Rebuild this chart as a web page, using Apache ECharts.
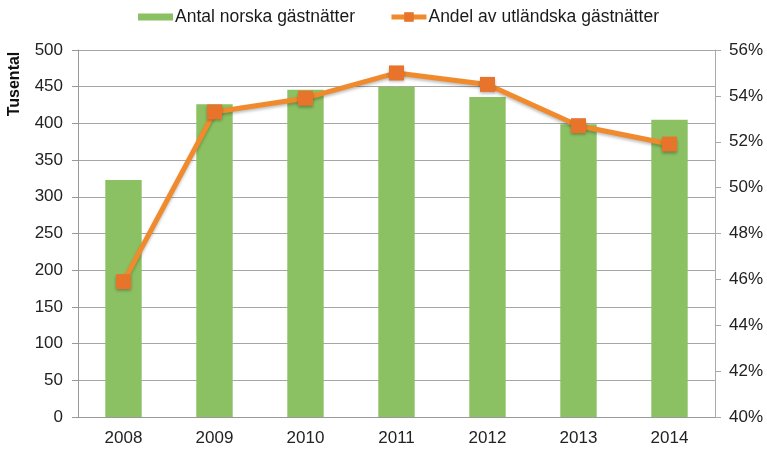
<!DOCTYPE html>
<html>
<head>
<meta charset="utf-8">
<script src="https://cdn.jsdelivr.net/npm/echarts@6/dist/echarts.min.js"></script>
<style>
  html, body { margin: 0; padding: 0; background: #fff; }
  #chart { width: 767px; height: 451px; }
</style>
</head>
<body>
<div id="chart"></div>
<script>
// Years on the category axis
const years = ['2008', '2009', '2010', '2011', '2012', '2013', '2014'];
// Norwegian guest nights, thousands (left axis)
const norskaGastnatter = [323, 426, 446, 450, 436, 399, 405];
// Share of foreign guest nights, percent (right axis)
const utlandskaAndel = [45.9, 53.3, 53.9, 55.0, 54.5, 52.7, 51.9];

const seriesNames = ['Antal norska gästnätter', 'Andel av utländska gästnätter'];

const barColor = '#8bc163';
const lineColor = '#f08a2c';
const markerColor = '#e8742c';

const labelFont = { fontFamily: 'Liberation Sans, Arial, sans-serif', fontSize: 17, color: '#222' };

const chart = echarts.init(document.getElementById('chart'), null, { renderer: 'canvas' });

chart.setOption({
  animation: false,
  backgroundColor: '#fff',
  grid: { left: 78, right: 52, top: 50, bottom: 34, containLabel: false },
  legend: {
    top: 3,
    left: 133,
    itemGap: 34,
    itemWidth: 35,
    itemHeight: 12,
    textStyle: { fontFamily: 'Liberation Sans, Arial, sans-serif', fontSize: 17.5, color: '#1a1a1a', padding: [0, 0, 0, -3] },
    data: [
      { name: seriesNames[0], icon: 'path://M0,0H35V7H0Z', itemStyle: { color: barColor } },
      {
        name: seriesNames[1],
        itemStyle: { color: markerColor },
        lineStyle: { color: lineColor, width: 5 }
      }
    ]
  },
  graphic: [
    {
      type: 'text',
      x: 15, y: 84,
      rotation: Math.PI / 2,
      style: {
        text: 'Tusental',
        font: 'bold 16px Liberation Sans, Arial, sans-serif',
        fill: '#111',
        textAlign: 'center',
        textVerticalAlign: 'middle'
      }
    }
  ],
  xAxis: {
    type: 'category',
    data: years,
    axisLine: { show: true, lineStyle: { color: '#999', width: 1 } },
    axisTick: { show: false },
    axisLabel: Object.assign({ margin: 13 }, labelFont)
  },
  yAxis: [
    {
      type: 'value',
      min: 0,
      max: 500,
      interval: 50,
      axisLine: { show: true, lineStyle: { color: '#999' } },
      axisTick: { show: true, length: 6, lineStyle: { color: '#999' } },
      splitLine: { show: true, lineStyle: { color: '#a6a6a6', width: 1 } },
      axisLabel: Object.assign({ margin: 15 }, labelFont)
    },
    {
      type: 'value',
      min: 40,
      max: 56,
      interval: 2,
      position: 'right',
      axisLine: { show: true, lineStyle: { color: '#aaa' } },
      axisTick: { show: true, length: 6, lineStyle: { color: '#aaa' } },
      splitLine: { show: false },
      axisLabel: Object.assign({ margin: 14, formatter: '{value}%' }, labelFont)
    }
  ],
  series: [
    {
      name: seriesNames[0],
      type: 'bar',
      yAxisIndex: 0,
      data: norskaGastnatter,
      barWidth: '40%',
      itemStyle: { color: barColor }
    },
    {
      name: seriesNames[1],
      type: 'line',
      yAxisIndex: 1,
      data: utlandskaAndel,
      symbol: 'rect',
      symbolSize: 15,
      lineStyle: {
        color: lineColor,
        width: 5,
        shadowColor: 'rgba(0,0,0,0.25)',
        shadowBlur: 3,
        shadowOffsetY: 2
      },
      itemStyle: {
        color: markerColor,
        borderWidth: 0,
        shadowColor: 'rgba(0,0,0,0.3)',
        shadowBlur: 3,
        shadowOffsetY: 2
      },
      z: 5
    }
  ]
});
</script>
</body>
</html>
